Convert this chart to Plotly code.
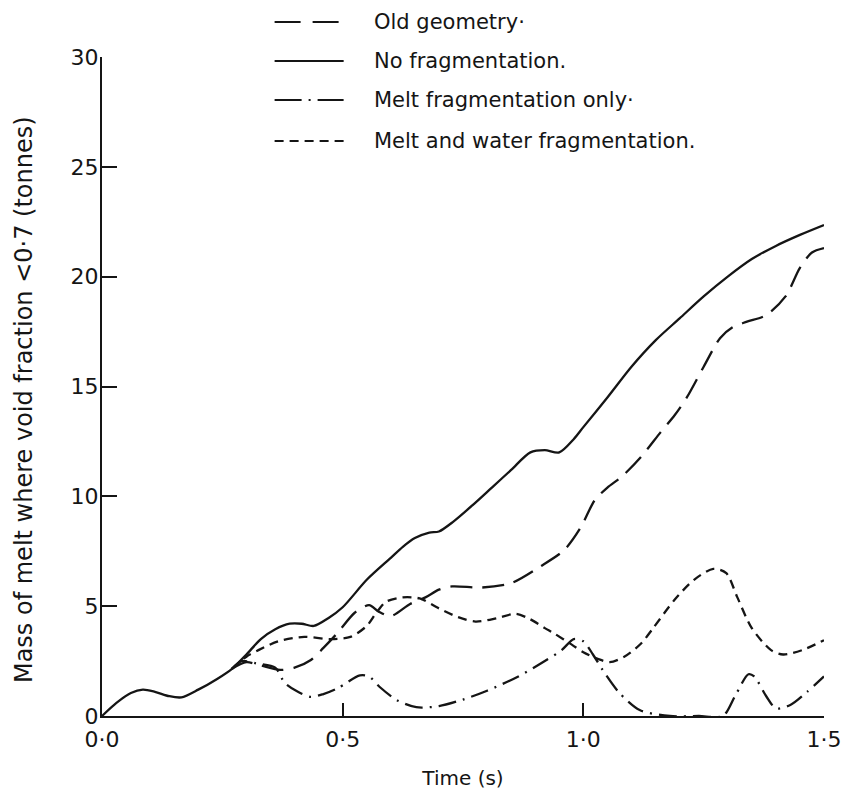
import plotly.graph_objects as go

# ---------------- data ----------------
series_names = ["Old geometry·", "No fragmentation.", "Melt fragmentation only·",
                "Melt and water fragmentation."]

t_nofrag = [0.0, 0.03, 0.06, 0.085, 0.11, 0.14, 0.165, 0.2, 0.24, 0.27, 0.30, 0.33, 0.36,
            0.39, 0.415, 0.44, 0.47, 0.50, 0.55, 0.60, 0.625, 0.65, 0.68, 0.70, 0.73, 0.77,
            0.81, 0.85, 0.89, 0.92, 0.95, 0.98, 1.0, 1.05, 1.10, 1.15, 1.20, 1.25, 1.30,
            1.35, 1.40, 1.45, 1.50]
y_nofrag = [0.0, 0.6, 1.05, 1.2, 1.1, 0.9, 0.85, 1.2, 1.7, 2.15, 2.8, 3.5, 3.95,
            4.2, 4.2, 4.1, 4.45, 4.95, 6.2, 7.2, 7.7, 8.1, 8.35, 8.4, 8.85, 9.6,
            10.4, 11.2, 12.0, 12.1, 12.0, 12.6, 13.15, 14.5, 15.9, 17.1, 18.1, 19.1, 20.0,
            20.8, 21.4, 21.9, 22.35]

t_old = [0.27, 0.30, 0.33, 0.37, 0.40, 0.434, 0.46, 0.49, 0.525, 0.555, 0.575, 0.60, 0.64,
         0.672, 0.70, 0.727, 0.79, 0.85, 0.91, 0.96, 0.995, 1.023, 1.05, 1.08, 1.12, 1.16,
         1.19, 1.215, 1.25, 1.284, 1.31, 1.34, 1.38, 1.42, 1.45, 1.475, 1.50]
y_old = [2.15, 2.45, 2.3, 2.1, 2.2, 2.55, 3.1, 3.8, 4.7, 5.05, 4.75, 4.55, 5.1,
         5.4, 5.75, 5.9, 5.85, 6.05, 6.8, 7.55, 8.6, 9.8, 10.4, 10.9, 11.8, 12.9,
         13.7, 14.5, 15.9, 17.2, 17.7, 17.95, 18.25, 19.1, 20.4, 21.1, 21.3]

t_melt = [0.27, 0.29, 0.32, 0.36, 0.38, 0.407, 0.434, 0.46, 0.49, 0.536, 0.555, 0.577,
          0.612, 0.653, 0.70, 0.75, 0.80, 0.865, 0.92, 0.955, 0.98, 1.0, 1.02, 1.04,
          1.075, 1.117, 1.18, 1.24, 1.29, 1.315, 1.343, 1.355, 1.38, 1.40, 1.43, 1.465, 1.50]
y_melt = [2.15, 2.5, 2.4, 2.2, 1.5, 1.1, 0.87, 1.0, 1.27, 1.85, 1.8, 1.32,
          0.73, 0.4, 0.45, 0.75, 1.15, 1.8, 2.5, 3.0, 3.5, 3.4, 2.8, 2.1,
          1.05, 0.27, 0.0, 0.0, 0.0, 0.9, 1.9, 1.8, 0.9, 0.35, 0.5, 1.1, 1.8]

t_water = [0.27, 0.30, 0.325, 0.366, 0.42, 0.475, 0.516, 0.55, 0.57, 0.59, 0.625, 0.66,
           0.70, 0.74, 0.776, 0.82, 0.86, 0.89, 0.92, 0.94, 0.976, 1.0, 1.03, 1.055, 1.085,
           1.12, 1.145, 1.19, 1.23, 1.27, 1.297, 1.32, 1.35, 1.39, 1.415, 1.455, 1.50]
y_water = [2.15, 2.7, 3.0, 3.4, 3.6, 3.5, 3.6, 4.1, 4.7, 5.2, 5.4, 5.35,
           4.9, 4.5, 4.3, 4.45, 4.65, 4.4, 4.0, 3.75, 3.25, 2.9, 2.6, 2.45, 2.7,
           3.3, 4.0, 5.3, 6.2, 6.7, 6.5, 5.4, 4.0, 3.0, 2.8, 3.0, 3.45]

x_tickvals = [0.0, 0.5, 1.0, 1.5]
x_ticktext = ["0·0", "0·5", "1·0", "1·5"]
y_tickvals = [0, 5, 10, 15, 20, 25, 30]
x_title = "Time (s)"
y_title = "Mass of melt where void fraction <0·7 (tonnes)"

# ---------------- styles ----------------
INK = "#151515"
FONT = "DejaVu Sans"
dashes = ["22px,10px", "solid", "18px,7px,2px,7px", "9px,6px"]
legend_dashes = ["26px,12px", "solid", "27px,7px,2px,7px,26px", "9px,6px"]

fig = go.Figure()
curves = [(t_old, y_old), (t_nofrag, y_nofrag), (t_melt, y_melt), (t_water, y_water)]
for (tx, ty), name, d in zip(curves, series_names, dashes):
    fig.add_trace(go.Scatter(x=tx, y=ty, mode="lines", name=name, showlegend=False,
                             line=dict(color=INK, width=2.3, dash=d, shape="spline",
                                       smoothing=0.8)))

# manual legend (above plot area, paper coordinates)
L, R, T, B = 102, 20, 57, 84
W, H = 854 - L - R, 800 - T - B
def px2x(px):
    return (px - L) / W
def py2y(py):
    return (800 - B - py) / H

row_py = [22, 61, 100, 141]
shapes = []
annotations = []
for name, d, py in zip(series_names, legend_dashes, row_py):
    shapes.append(dict(type="line", xref="paper", yref="paper",
                       x0=px2x(277), x1=px2x(347), y0=py2y(py), y1=py2y(py),
                       line=dict(color=INK, width=2.2, dash=d)))
    annotations.append(dict(xref="paper", yref="paper", x=px2x(376), y=py2y(py),
                            text=name, showarrow=False, xanchor="left", yanchor="middle",
                            font=dict(family=FONT, size=21, color=INK)))

# y-axis title as rotated text
annotations.append(dict(xref="paper", yref="paper", x=px2x(23), y=py2y(400),
                        text=y_title, showarrow=False, textangle=-90,
                        xanchor="center", yanchor="middle",
                        font=dict(family=FONT, size=24, color=INK)))

fig.update_layout(
    width=854, height=800,
    margin=dict(l=L, r=R, t=T, b=B),
    paper_bgcolor="white", plot_bgcolor="white",
    font=dict(family=FONT, size=22, color=INK),
    shapes=shapes, annotations=annotations,
    xaxis=dict(range=[0, 1.5], tickvals=x_tickvals, ticktext=x_ticktext,
               showline=True, linecolor=INK, linewidth=2, ticks="inside", ticklen=13,
               tickwidth=2, tickcolor=INK, showgrid=False, zeroline=False,
               ticklabelstandoff=3, tickfont=dict(size=22),
               title=dict(text=x_title, font=dict(size=20), standoff=20)),
    yaxis=dict(range=[0, 30], tickvals=y_tickvals,
               showline=True, linecolor=INK, linewidth=2, ticks="inside", ticklen=15,
               tickwidth=2, tickcolor=INK, showgrid=False, zeroline=False,
               ticklabelstandoff=-3, tickfont=dict(size=22)),
)

fig.write_html("out.html")
